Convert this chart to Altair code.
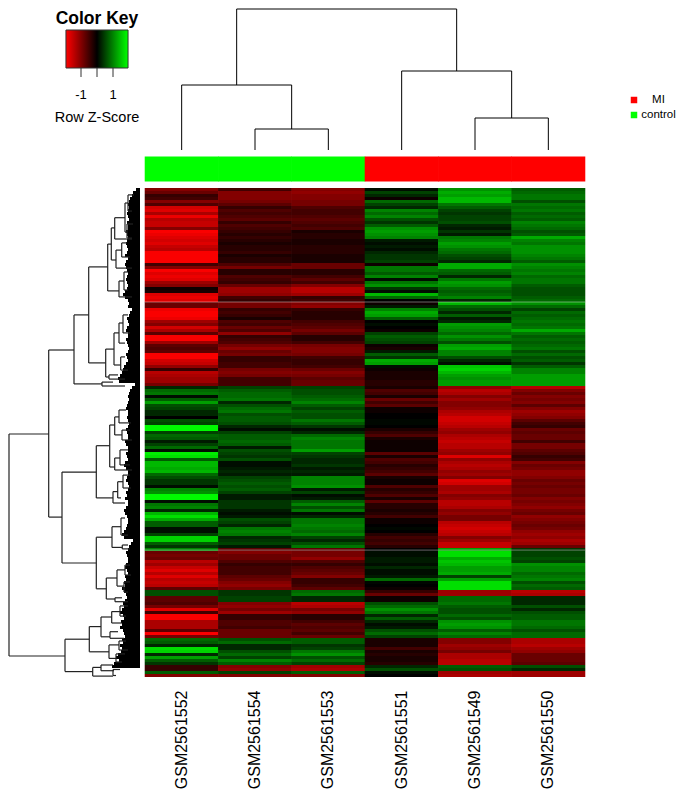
import altair as alt
import pandas as pd

samples = ["GSM2561552", "GSM2561554", "GSM2561553", "GSM2561551", "GSM2561549", "GSM2561550"]
groups = ["control", "control", "control", "MI", "MI", "MI"]

S52 = [-1.0,-0.8,-0.4,-0.5,-1.0,-0.6,-1.6,-1.7,-1.3,-1.8,-1.4,-1.5,-1.5,-1.0,-1.9,-1.8,-1.7,-1.6,-1.7,-1.5,-1.4,-1.9,-1.9,-1.9,-1.9,-0.5,-1.0,
       -1.9,-1.7,-1.8,-1.7,-1.2,-1.0,-0.1,-0.2,-1.7,-1.8,-1.7,-0.8,-0.8,-1.8,-1.9,-1.9,-1.8,-1.2,-1.0,-1.6,-1.3,-0.7,-1.9,-1.9,-1.2,-0.7,-0.6,
       -0.7,-1.9,-1.9,-1.6,-1.5,-1.1,-0.4,-1.4,-1.3,-1.2,-1.2,-0.9,0.3,0.8,0.9,0.1,0.7,1.2,0.6,0.5,0.3,0.3,0.0,0.6,0.5,1.9,1.9,0.5,
       0.8,0.7,0.2,0.5,0.8,0.1,1.8,1.7,0.7,1.4,1.4,1.3,1.4,0.8,0.6,0.4,0.4,0.1,1.0,1.1,1.9,1.9,0.1,0.9,1.0,0.3,1.4,
       1.7,1.3,0.7,0.7,0.1,0.1,0.5,1.6,1.6,0.7,0.4,1.0,-0.8,-0.9,-0.8,-1.4,-1.2,-1.5,-1.7,-1.4,-1.7,-1.4,-1.5,-1.4,-0.7,0.6,0.6,
       -0.7,-0.7,-0.6,-0.9,-1.7,-0.5,-1.9,-1.9,-1.3,-1.3,-1.3,-0.7,-1.9,-0.9,0.8,0.7,0.3,1.7,1.6,0.3,1.2,0.7,0.4,-0.4,-0.4,0.7,-1.0]
S54 = [-0.5,-1.0,-1.0,-1.0,-0.9,-0.7,-0.4,-0.6,-0.5,-0.6,-0.7,-0.4,-0.6,-0.5,-0.4,-0.3,-0.4,-0.3,-0.2,-0.3,-0.3,-0.4,-0.2,-0.3,-0.3,-0.6,-0.9,
       -0.3,-0.3,-0.6,-0.5,-0.4,-0.8,-1.2,-1.2,-1.1,-0.5,-0.4,-0.9,-0.9,-0.4,-0.5,-0.4,-0.2,-0.6,-0.5,-0.8,-0.6,-1.1,-0.4,-0.5,-0.6,-0.9,-1.1,
       -0.8,-0.9,-0.4,-0.4,-0.5,-0.5,-0.9,-1.0,-0.9,-0.5,-0.5,-0.5,0.5,0.7,0.8,0.8,0.9,0.3,0.6,0.8,0.9,0.6,0.7,0.7,0.6,0.3,0.1,0.5,
       0.7,0.7,0.8,0.7,0.2,0.6,0.5,0.4,0.6,0.1,0.1,0.2,0.3,0.2,0.5,0.6,0.7,0.6,0.7,0.5,0.2,0.2,0.4,0.4,0.4,0.2,0.1,
       0.2,0.6,0.5,0.3,0.9,1.0,0.9,0.3,0.4,0.5,0.2,-0.7,-1.0,-0.8,-0.8,-0.6,-0.4,-0.5,-0.5,-0.5,-0.7,-0.8,-1.0,-1.1,-0.9,0.4,0.4,
       0.5,0.5,-1.0,-1.1,-0.9,-1.2,-0.4,-0.4,-0.6,-0.6,-0.5,-0.8,-0.8,-0.8,0.6,0.8,0.3,0.3,0.6,0.8,0.5,1.0,0.7,-1.0,-1.1,0.5,-1.0]
S53 = [-1.0,-1.1,-1.0,-1.0,-0.9,-0.9,-0.6,-0.5,-0.5,-0.6,-0.7,-0.6,-0.5,-0.6,-0.2,-0.3,-0.3,-0.2,-0.2,-0.3,-0.3,-0.3,-0.2,-0.2,-0.2,-0.8,-0.8,
       -0.3,-0.3,-0.5,-0.7,-0.5,-1.0,-1.4,-1.4,-1.2,-0.4,-0.5,-1.0,-1.1,-0.4,-0.3,-0.3,-0.3,-0.5,-0.6,-0.7,-0.9,-0.7,-0.3,-0.3,-0.5,-0.9,-1.0,
       -1.0,-0.9,-0.5,-0.4,-0.4,-0.5,-0.8,-1.0,-0.9,-0.7,-0.8,-0.8,0.5,0.6,0.6,0.7,0.8,1.0,0.7,0.5,0.7,0.6,0.6,0.9,0.7,0.4,0.1,0.3,
       0.8,1.0,0.9,0.9,0.9,1.2,0.5,0.4,0.3,0.3,0.4,0.2,0.3,0.2,1.0,1.0,1.0,1.1,0.2,0.5,0.1,0.2,0.7,1.0,0.6,0.9,0.1,
       0.3,0.9,0.9,1.0,0.9,0.8,1.0,0.5,0.3,0.6,0.9,-0.7,-0.9,-0.9,-1.1,-0.6,-0.4,-0.6,-0.7,-0.8,-1.0,-0.4,-0.4,-0.5,-0.7,0.8,0.9,
       0.3,0.3,-1.4,-1.3,-0.9,-1.1,-0.3,-0.3,-0.5,-0.7,-0.6,-0.7,-0.5,-0.8,0.7,0.7,0.4,0.5,0.9,1.1,0.6,0.8,0.5,-1.2,-1.3,0.7,-1.0]
S51 = [0.1,0.5,0.3,-0.1,0.8,0.5,0.3,1.0,0.8,1.0,0.6,0.4,0.7,1.1,1.2,1.1,1.0,0.2,0.1,0.2,0.1,0.3,0.4,0.4,0.5,-0.1,0.9,
       0.9,0.7,1.0,0.1,0.9,1.1,0.4,0.1,1.4,0.8,0.0,-0.1,0.2,1.0,1.3,1.2,0.7,0.0,0.1,0.0,-0.1,0.5,0.7,0.6,0.5,-0.1,-0.2,
       0.2,0.7,0.4,1.3,1.2,0.1,-0.1,-0.2,-0.2,-0.2,-0.3,-0.3,-0.2,-0.6,-0.5,-0.2,-0.8,-0.5,-0.7,-0.1,-0.1,0.0,0.0,0.05,0.05,0.0,-0.2,-0.4,
       -0.6,-0.2,-0.1,-0.1,-0.1,-0.1,-0.7,-0.2,-0.6,-0.5,-0.3,-0.4,-0.5,-0.7,-0.2,-0.1,-0.1,-0.6,-0.3,-0.4,-0.6,-0.2,-0.7,-0.3,-0.3,-0.2,-0.3,
       -0.5,-0.1,-0.1,0.0,0.05,0.0,-0.3,-0.5,-0.4,-0.5,-0.3,0.0,0.1,0.1,0.2,0.2,0.1,0.3,0.1,0.1,0.2,0.8,0.05,0.0,-0.1,-0.4,-0.8,
       -0.1,-0.1,0.6,0.8,1.1,0.9,0.3,0.7,0.3,0.1,0.2,0.6,0.8,0.5,-0.2,-0.2,-0.2,-0.5,-0.2,-0.3,-0.2,-0.2,-0.3,0.3,0.6,0.1,0.0]
S49 = [1.1,1.3,1.2,1.4,1.4,0.9,0.7,0.5,0.4,0.5,0.5,0.6,0.3,0.2,0.4,0.2,0.9,1.0,1.2,1.1,0.9,0.8,0.6,0.5,0.3,1.3,1.3,
       0.8,0.7,0.3,0.9,1.2,1.1,0.8,0.7,0.8,1.0,0.3,1.4,0.8,0.6,0.3,0.7,0.2,0.3,1.2,1.1,1.0,0.8,1.1,0.9,0.6,1.2,1.3,
       1.0,1.0,0.6,0.3,0.1,1.5,1.6,1.4,1.2,1.1,1.2,1.2,-1.1,-1.4,-1.3,-1.0,-1.2,-1.0,-1.0,-1.1,-1.3,-1.4,-1.6,-1.6,-1.5,-1.4,-1.2,-1.1,
       -1.3,-1.4,-1.5,-1.4,-1.4,-1.2,-1.1,-1.7,-1.1,-1.3,-1.4,-1.3,-1.1,-1.2,-1.0,-1.7,-1.6,-1.2,-1.2,-1.3,-1.0,-1.1,-1.4,-1.4,-1.3,-1.0,-1.1,
       -0.9,-0.9,-1.4,-1.5,-1.6,-1.5,-1.4,-1.0,-1.2,-1.5,-1.5,1.2,1.7,1.7,1.3,1.5,1.4,1.2,1.2,1.3,0.5,1.2,1.7,1.7,1.7,-1.2,-1.2,
       0.8,0.8,0.9,0.7,0.6,0.6,0.8,0.6,1.1,1.2,1.1,0.7,1.0,0.8,-1.0,-1.0,-1.2,-1.1,-0.9,-1.3,-1.3,-1.4,-1.4,0.7,0.6,-1.2,-1.3]
S50 = [0.7,0.8,0.9,0.9,0.6,0.9,0.8,0.9,0.7,0.8,0.7,1.0,0.9,0.8,0.6,0.7,1.3,1.0,0.9,1.1,1.1,1.1,1.0,0.9,0.7,1.1,1.0,
       0.9,1.0,0.8,0.9,0.9,0.7,0.6,0.6,0.6,0.7,0.8,1.1,0.8,0.5,0.8,0.7,0.8,0.9,0.8,0.9,1.3,0.9,0.7,0.8,0.7,0.8,0.9,
       0.6,0.8,0.6,0.7,0.4,0.7,1.0,1.0,1.2,1.2,1.2,1.2,-1.4,-1.0,-0.8,-1.0,-0.9,-1.0,-0.7,-1.0,-1.2,-1.1,-1.0,-0.7,-0.5,-0.4,-0.8,-0.7,
       -0.8,-0.8,-0.5,-0.9,-0.9,-0.7,-0.6,-0.4,-0.5,-1.0,-0.8,-0.9,-1.1,-1.1,-1.0,-0.8,-0.9,-0.8,-0.9,-0.9,-0.8,-1.0,-0.9,-1.0,-1.1,-0.9,-0.8,
       -1.1,-1.0,-0.9,-0.8,-0.9,-1.1,-1.2,-1.1,-1.3,-1.2,-0.8,0.4,0.5,0.5,0.6,0.5,1.1,1.0,1.0,0.8,0.9,1.0,0.6,0.8,0.7,-1.4,-1.3,
       0.3,0.3,0.3,0.6,0.3,0.6,0.7,0.7,0.9,0.9,0.8,0.6,0.8,0.8,-1.3,-1.3,-1.4,-1.2,-1.1,-0.8,-0.8,-0.8,-0.7,0.6,0.3,-1.2,-1.2]
heat_cols = [S52, S54, S53, S51, S49, S50]
pale_rows = [38, 120.7]

# row dendrogram: merge height, rows joined, and heights of the two children
left_h = [131,91.3,66,51.3,32.3,28.7,25.3,15,12,13,24,18.3,21,16,34.3,26,21,17,19.3,31,38,
          78,43.7,30.3,25.3,21,18,25.3,20,27,22.3,17,43.7,28,19,17.7,33.7,23,15,16,25,
          75,50.7,39,28.3,20,30,31,21,24,47.3,39,27]
left_top = [82,54,42.3,26.3,18.7,13.3,9.9,5,2.3,12,20.7,18.3,31,28,53.7,48.3,45,42.3,56.3,62.3,64.7,
            94.7,85.9,79,76.3,74,80.7,90,87.3,101.2,97.9,95.7,116.4,112.9,110,119,130,127.3,125.7,131.3,136.6,
            150.4,146.2,143,141.2,139.3,147.9,152.3,151,155.3,159.8,159,160.5]
left_bottom = [156,109.7,65.3,58.3,34.3,24,17,14.7,7.7,16.7,26.7,23,36.3,34,63,59,51.7,48.3,60.7,63.7,66,
               125,103.3,93,82.3,78.3,84,94,92.3,105,103.3,100,133.6,119.8,115.7,120.3,137,132.7,129,134.7,137.9,
               161.2,154.6,149.6,145,142.7,150.1,156.8,154,158,162.7,160.9,162.5]
left_top_child = [91.3,66,51.3,32.3,28.7,25.3,15,12,6,7,18.3,13,16,12,26,21,17,12,15,22,27,
                  43.7,30.3,25.3,21,14,10,20,12,22.3,17,10,28,19,15,12,23,15,10,10,18,
                  50.7,39,28.3,20,12,22,21,14,15,39,27,20]
left_bottom_child = [75,78,38,34.3,21,24,8,13,8,8,8,10,8,12,31,19.3,15,10,12,15,15,
                     43.7,27,25.3,18,9,8,8,10,15,19,9,33.7,17.7,12,10,25,16,9,12,12,
                     47.3,31,30,18,14,16,24,12,18,27,26,24]
leaf_reach = [4,7,8,10,11,12,11,12,13,12,11,13,12,12,14,13,12,13,14,13,12,13,15,
              12,14,15,14,13,12,13,14,13,12,13,15,17,15,12,11,12,
              8,10,11,13,12,11,13,14,12,12,14,13,12,11,12,14,13,12,14,16,17,18,20,22,21,
              5,8,10,11,12,11,12,13,14,12,12,13,12,11,12,14,13,12,12,15,14,12,12,14,13,12,15,16,14,12,12,
              13,14,12,11,12,14,13,15,12,12,14,16,15,13,12,12,13,14,16,18,16,
              7,9,11,12,14,13,12,12,14,15,13,12,15,14,16,15,18,16,14,
              13,15,17,16,18,20,17,16,19,18,20,17,16,15,18,17,20,18,19,22,24,21,26,28]

# column dendrogram, in the column order above
top_h = [21, 65, 32, 79, 141]
top_left = [1.5, 0.5, 4.5, 3.5, 1.25]
top_right = [2.5, 2.0, 5.5, 5.0, 4.25]
top_left_child = [0, 0, 0, 0, 65]
top_right_child = [0, 21, 0, 32, 79]

key_ticks = [-1, 0, 1]
key_labels = ["-1", "1"]
key_label_values = [-1, 1]
key_limits = [-1.94, 1.94]
legend_names = ["MI", "control"]
legend_colors = ["#ff0000", "#00ff00"]

FONT = "Liberation Sans"
color_scale = alt.Scale(domain=[key_limits[0], 0, key_limits[1]], range=["#ff0000", "#000000", "#00ff00"],
                        clamp=True, interpolate="rgb")

assert all(len(c) == 163 for c in heat_cols), [len(c) for c in heat_cols]

heat = pd.DataFrame([
    {"sample": s, "row": i, "row2": i + 1, "z": v}
    for s, col in zip(samples, heat_cols) for i, v in enumerate(col)
])
x_band = alt.Scale(domain=samples, paddingInner=0, paddingOuter=0, round=False)
row_scale = alt.Scale(domain=[0, 163], reverse=True, nice=False, zero=False)

heat_rect = alt.Chart(heat).mark_rect(width=73.9).encode(
    x=alt.X("sample:N", sort=samples, scale=x_band,
            axis=alt.Axis(title=None, domain=False, ticks=False, labelAngle=270, labelFontSize=16,
                          labelFont=FONT, labelColor="#000", labelPadding=13, labelAlign="right",
                          labelBaseline="middle", grid=False, labelLimit=200)),
    y=alt.Y("row:Q", scale=row_scale, axis=None),
    y2="row2:Q",
    color=alt.Color("z:Q", scale=color_scale, legend=None),
)
pale = alt.Chart(pd.DataFrame({"row": pale_rows})).mark_rule(color="#ffffff", opacity=0.4, strokeWidth=1).encode(
    y=alt.Y("row:Q", scale=row_scale, axis=None)
)
heatmap = alt.layer(heat_rect, pale).properties(width=440, height=489)

colbar = alt.Chart(pd.DataFrame({"sample": samples, "group": groups})).mark_rect(width=73.9).encode(
    x=alt.X("sample:N", sort=samples, scale=x_band, axis=None),
    color=alt.Color("group:N", scale=alt.Scale(domain=legend_names, range=legend_colors), legend=None),
).properties(width=440, height=25)

# top dendrogram
top_x = alt.Scale(domain=[0, 6], nice=False, zero=False)
top_y = alt.Scale(domain=[0, 142], nice=False)
top_df = pd.DataFrame({"h": top_h, "a": top_left, "b": top_right, "ca": top_left_child, "cb": top_right_child})
top_across = alt.Chart(top_df).mark_rule(color="#000", strokeWidth=1).encode(
    x=alt.X("a:Q", scale=top_x, axis=None), x2="b:Q", y=alt.Y("h:Q", scale=top_y, axis=None))
top_dl = alt.Chart(top_df).mark_rule(color="#000", strokeWidth=1).encode(
    x=alt.X("a:Q", scale=top_x, axis=None), y=alt.Y("h:Q", scale=top_y, axis=None), y2="ca:Q")
top_dr = alt.Chart(top_df).mark_rule(color="#000", strokeWidth=1).encode(
    x=alt.X("b:Q", scale=top_x, axis=None), y=alt.Y("h:Q", scale=top_y, axis=None), y2="cb:Q")
top_tree = alt.layer(top_across, top_dl, top_dr).properties(width=440, height=142)

# left dendrogram
lx = alt.Scale(domain=[132, 0], nice=False, zero=False)
left_df = pd.DataFrame({"h": left_h, "t": left_top, "b": left_bottom, "ct": left_top_child, "cb": left_bottom_child})
comb_df = pd.DataFrame({"row": list(range(len(leaf_reach))), "reach": leaf_reach})
comb_df["row2"] = comb_df["row"] + 1
comb_df["base"] = 0
comb = alt.Chart(comb_df).mark_rect(color="#000").encode(
    x=alt.X("reach:Q", scale=lx, axis=None), x2="base:Q",
    y=alt.Y("row:Q", scale=row_scale, axis=None), y2="row2:Q")
line = dict(color="#222", strokeWidth=1.2)
l_v = alt.Chart(left_df).mark_rule(**line).encode(
    x=alt.X("h:Q", scale=lx, axis=None), y=alt.Y("t:Q", scale=row_scale, axis=None), y2="b:Q")
l_t = alt.Chart(left_df).mark_rule(**line).encode(
    x=alt.X("h:Q", scale=lx, axis=None), x2="ct:Q", y=alt.Y("t:Q", scale=row_scale, axis=None))
l_b = alt.Chart(left_df).mark_rule(**line).encode(
    x=alt.X("h:Q", scale=lx, axis=None), x2="cb:Q", y=alt.Y("b:Q", scale=row_scale, axis=None))
left_tree = alt.layer(comb, l_v, l_t, l_b).properties(width=132, height=489)

# colour key (drawn from the top of its grid cell, running past it into the empty cell below)
kx = alt.Scale(domain=[-5.5625, 2.6875], nice=False, zero=False)
grad = alt.Gradient(gradient="linear", x1=0, x2=1, y1=0, y2=0, stops=[
    alt.GradientStop(color="#ff0000", offset=0), alt.GradientStop(color="#000000", offset=0.5),
    alt.GradientStop(color="#00ff00", offset=1)])
k_rect = alt.Chart(pd.DataFrame({"lo": [key_limits[0]], "hi": [key_limits[1]]})).mark_rect(
    fill=grad, stroke="#333", strokeWidth=1).encode(
    x=alt.X("lo:Q", scale=kx, axis=None), x2="hi:Q", y=alt.value(22), y2=alt.value(60))
k_ticks = alt.Chart(pd.DataFrame({"z": key_ticks})).mark_rule(color="#333", strokeWidth=1).encode(
    x=alt.X("z:Q", scale=kx, axis=None), y=alt.value(60), y2=alt.value(69))
k_lab = alt.Chart(pd.DataFrame({"z": key_label_values, "t": key_labels})).mark_text(
    font=FONT, fontSize=13, color="#000", baseline="middle").encode(
    x=alt.X("z:Q", scale=kx, axis=None), y=alt.value(87), text="t:N")
k_title = alt.Chart(pd.DataFrame({"z": [0], "t": ["Color Key"]})).mark_text(
    font=FONT, fontSize=17.5, fontWeight="bold", color="#000", baseline="middle").encode(
    x=alt.X("z:Q", scale=kx, axis=None), y=alt.value(10.5), text="t:N")
k_sub = alt.Chart(pd.DataFrame({"z": [0], "t": ["Row Z-Score"]})).mark_text(
    font=FONT, fontSize=14.5, color="#000", baseline="middle").encode(
    x=alt.X("z:Q", scale=kx, axis=None), y=alt.value(110), text="t:N")
key = alt.layer(k_rect, k_ticks, k_lab, k_title, k_sub).properties(width=132, height=142)

# group legend
leg_df = pd.DataFrame({"name": legend_names})
leg_y = alt.Scale(type="point", domain=legend_names, range=[92, 107], padding=0)
leg_sq = alt.Chart(leg_df).mark_square(size=42, opacity=1).encode(
    x=alt.value(44), y=alt.Y("name:N", scale=leg_y, axis=None),
    color=alt.Color("name:N", scale=alt.Scale(domain=legend_names, range=legend_colors), legend=None))
leg_tx = alt.Chart(leg_df).mark_text(font=FONT, fontSize=11.5, color="#000", baseline="middle").encode(
    x=alt.value(68.5), y=alt.Y("name:N", scale=leg_y, axis=None), text="name:N")
legend = alt.layer(leg_sq, leg_tx).properties(width=87, height=142)


def blank(w, h):
    return alt.Chart(pd.DataFrame({"v": [0]})).mark_rect(opacity=0).encode(
        x=alt.value(0)).properties(width=w, height=h)


chart = alt.concat(
    key, top_tree, legend,
    blank(132, 25), colbar, blank(87, 25),
    left_tree, heatmap, blank(87, 489),
    columns=3, spacing={"row": 6.5, "column": 5}, bounds="flush", align="each",
).resolve_scale(
    color="independent", x="independent", y="independent"
).properties(padding=0, background="#ffffff").configure_view(stroke=None)

chart.save("out.html", embed_options={"renderer": "svg", "actions": False})
